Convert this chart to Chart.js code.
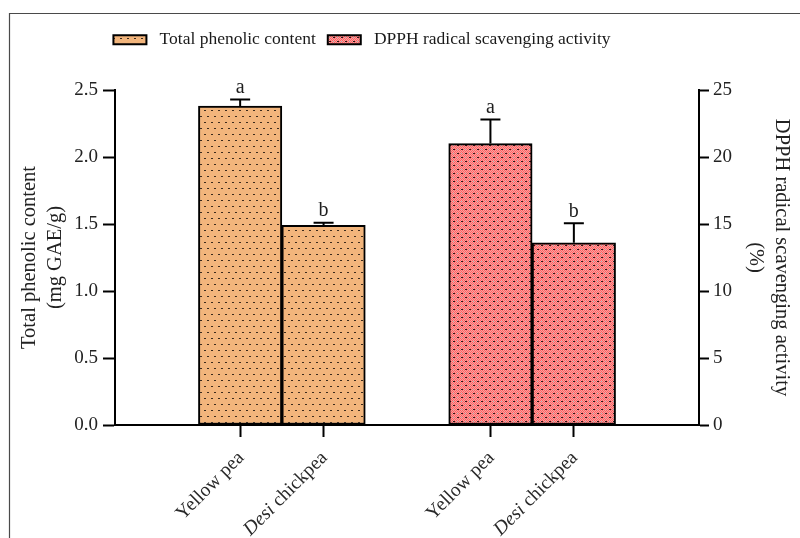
<!DOCTYPE html>
<html><head><meta charset="utf-8">
<script src="https://cdn.jsdelivr.net/npm/chart.js@4.4.0/dist/chart.umd.min.js"></script>
<style>
html,body{margin:0;padding:0;background:#fff;}
#wrap{position:relative;width:800px;height:538px;}
</style></head><body>
<div id="wrap"><canvas id="c" width="800" height="538"></canvas></div>
<script>
// ---- data ----
const categories = ['', 'Yellow pea', 'Desi chickpea', '', 'Yellow pea', 'Desi chickpea', ''];
const tpcValues  = [null, 2.38, 1.49, null, null, null, null];
const tpcErrors  = [null, 0.05, 0.02, null, null, null, null];
const tpcLetters = [null, 'a', 'b', null, null, null, null];
const dpphValues  = [null, null, null, null, 21.0, 13.6, null];
const dpphErrors  = [null, null, null, null, 1.8, 1.45, null];
const dpphLetters = [null, null, null, null, 'a', 'b', null];
const seriesNames = ['Total phenolic content', 'DPPH radical scavenging activity'];
const leftTitle = ['Total phenolic content', '(mg GAE/g)'];
const rightTitle = ['DPPH radical scavenging activity', '(%)'];

const SERIF = '"Liberation Serif", "Times New Roman", serif';

function tpcPattern(){
  const p = document.createElement('canvas'); p.width = 7; p.height = 12;
  const c = p.getContext('2d');
  c.fillStyle = '#F2B57C'; c.fillRect(0,0,7,12);
  c.fillStyle = '#3b2a1c';
  c.fillRect(1,2,2,1); c.fillRect(4,8,2,1);
  return c.createPattern(p,'repeat');
}
function dpphPattern(){
  const p = document.createElement('canvas'); p.width = 8; p.height = 8;
  const c = p.getContext('2d');
  for(let y=0;y<8;y++) for(let x=0;x<8;x++){
    c.fillStyle = ((x+y)%2===0) ? '#FF6262' : '#F8A0A0';
    c.fillRect(x,y,1,1);
  }
  c.fillStyle = '#2a1414';
  c.fillRect(1,1,2,1); c.fillRect(5,5,2,1);
  c.fillStyle = '#b0a0a0';
  c.fillRect(5,1,1,1); c.fillRect(1,5,1,1);
  return c.createPattern(p,'repeat');
}

const frame = {
  id:'frame',
  beforeDraw(chart){
    const ctx = chart.ctx; ctx.save();
    ctx.strokeStyle = '#4a4a4a'; ctx.lineWidth = 1.2;
    ctx.beginPath(); ctx.moveTo(9.5,538); ctx.lineTo(9.5,13.5); ctx.lineTo(800,13.5); ctx.stroke();
    ctx.restore();
  }
};

const legendTweak = {
  id:'legendTweak',
  beforeLayout(chart){
    const lg = chart.legend;
    if(lg && !lg._tw){
      lg._tw = true;
      const orig = lg.fit.bind(lg);
      lg.fit = function(){ orig(); this.height = 71; };
    }
  },
  afterLayout(chart){
    const lg = chart.legend;
    if(lg){ lg.left -= 38; lg.right -= 38; }
  }
};

const errorBars = {
  id:'errorBars',
  afterDatasetsDraw(chart){
    const ctx = chart.ctx;
    const sets = [
      {values:tpcValues, errors:tpcErrors, letters:tpcLetters, ds:0, axis:'y'},
      {values:dpphValues, errors:dpphErrors, letters:dpphLetters, ds:1, axis:'y1'}
    ];
    sets.forEach(s=>{
      const meta = chart.getDatasetMeta(s.ds); const sc = chart.scales[s.axis];
      s.values.forEach((v,i)=>{
        if(v==null) return;
        const x = meta.data[i].x;
        const yb = sc.getPixelForValue(v);
        const yt = sc.getPixelForValue(v + s.errors[i]);
        ctx.save();
        ctx.strokeStyle = '#000'; ctx.lineWidth = 2;
        ctx.beginPath(); ctx.moveTo(x,yb); ctx.lineTo(x,yt);
        ctx.moveTo(x-10,yt); ctx.lineTo(x+10,yt); ctx.stroke();
        ctx.fillStyle = '#1e1e1e'; ctx.font = '20px ' + SERIF;
        ctx.textAlign = 'center'; ctx.textBaseline = 'bottom';
        ctx.fillText(s.letters[i], x, yt - 2);
        ctx.restore();
      });
    });
  }
};

const xLabels = {
  id:'xLabels',
  afterDraw(chart){
    const sc = chart.scales.x; const ctx = chart.ctx;
    categories.forEach((lab,i)=>{
      if(!lab) return;
      const x = sc.getPixelForValue(i);
      ctx.save();
      ctx.translate(x + 1, sc.top + 30);
      ctx.rotate(-Math.PI/4);
      ctx.textAlign = 'right'; ctx.textBaseline = 'middle'; ctx.fillStyle = '#2a2a2a';
      if(lab.indexOf('Desi ') === 0){
        const rest = lab.slice(4);
        ctx.font = '19.5px ' + SERIF;
        const w = ctx.measureText(rest).width;
        ctx.fillText(rest, 0, 0);
        ctx.font = 'italic 19.5px ' + SERIF;
        ctx.fillText('Desi', -w, 0);
      } else {
        ctx.font = '19.5px ' + SERIF;
        ctx.fillText(lab, 0, 0);
      }
      ctx.restore();
    });
  }
};

const tickFont = {family:SERIF, size:19};
const titleFont = {family:SERIF, size:20.5, lineHeight:1.3};

new Chart(document.getElementById('c'), {
  type:'bar',
  data:{
    labels: categories,
    datasets:[
      {label:seriesNames[0], data:tpcValues, yAxisID:'y', backgroundColor:tpcPattern(),
       borderColor:'#000', borderWidth:2, borderSkipped:false, barPercentage:1, categoryPercentage:1},
      {label:seriesNames[1], data:dpphValues, yAxisID:'y1', backgroundColor:dpphPattern(),
       borderColor:'#000', borderWidth:2, borderSkipped:false, barPercentage:1, categoryPercentage:1}
    ]
  },
  options:{
    responsive:false, animation:false, grouped:false,
    layout:{padding:{top:19,left:0,right:0,bottom:0}},
    plugins:{
      legend:{position:'top', labels:{boxWidth:33, boxHeight:9, padding:12, color:'#1a1a1a',
        font:{family:SERIF, size:17.5},
        generateLabels(chart){
          const items = Chart.defaults.plugins.legend.labels.generateLabels(chart);
          items.forEach(it => { it.text = ' ' + it.text; });
          return items;
        }}},
      tooltip:{enabled:false}
    },
    scales:{
      x:{
        grid:{offset:false, drawOnChartArea:false, tickLength:12, tickWidth:2,
              tickColor: c => (categories[c.index] ? '#000' : 'rgba(0,0,0,0)')},
        border:{color:'#000', width:2},
        ticks:{display:false},
        afterFit: s => { s.height = 113; }
      },
      y:{
        position:'left', min:0, max:2.5,
        ticks:{stepSize:0.5, callback: v => Number(v).toFixed(1), font:tickFont, color:'#222', padding:5},
        grid:{drawOnChartArea:false, tickLength:12, tickWidth:2, tickColor:'#000'},
        border:{color:'#000', width:2},
        title:{display:true, text:leftTitle, font:titleFont, color:'#222', padding:{top:16, bottom:0}},
        afterFit: s => { s.width = 115; }
      },
      y1:{
        position:'right', min:0, max:25,
        ticks:{stepSize:5, font:tickFont, color:'#222', padding:4},
        grid:{drawOnChartArea:false, tickLength:10, tickWidth:2, tickColor:'#000'},
        border:{color:'#000', width:2},
        title:{display:true, text:rightTitle, font:titleFont, color:'#222', padding:{top:5, bottom:0}},
        afterFit: s => { s.width = 101; }
      }
    }
  },
  plugins:[frame, legendTweak, errorBars, xLabels]
});
</script>
</body></html>
